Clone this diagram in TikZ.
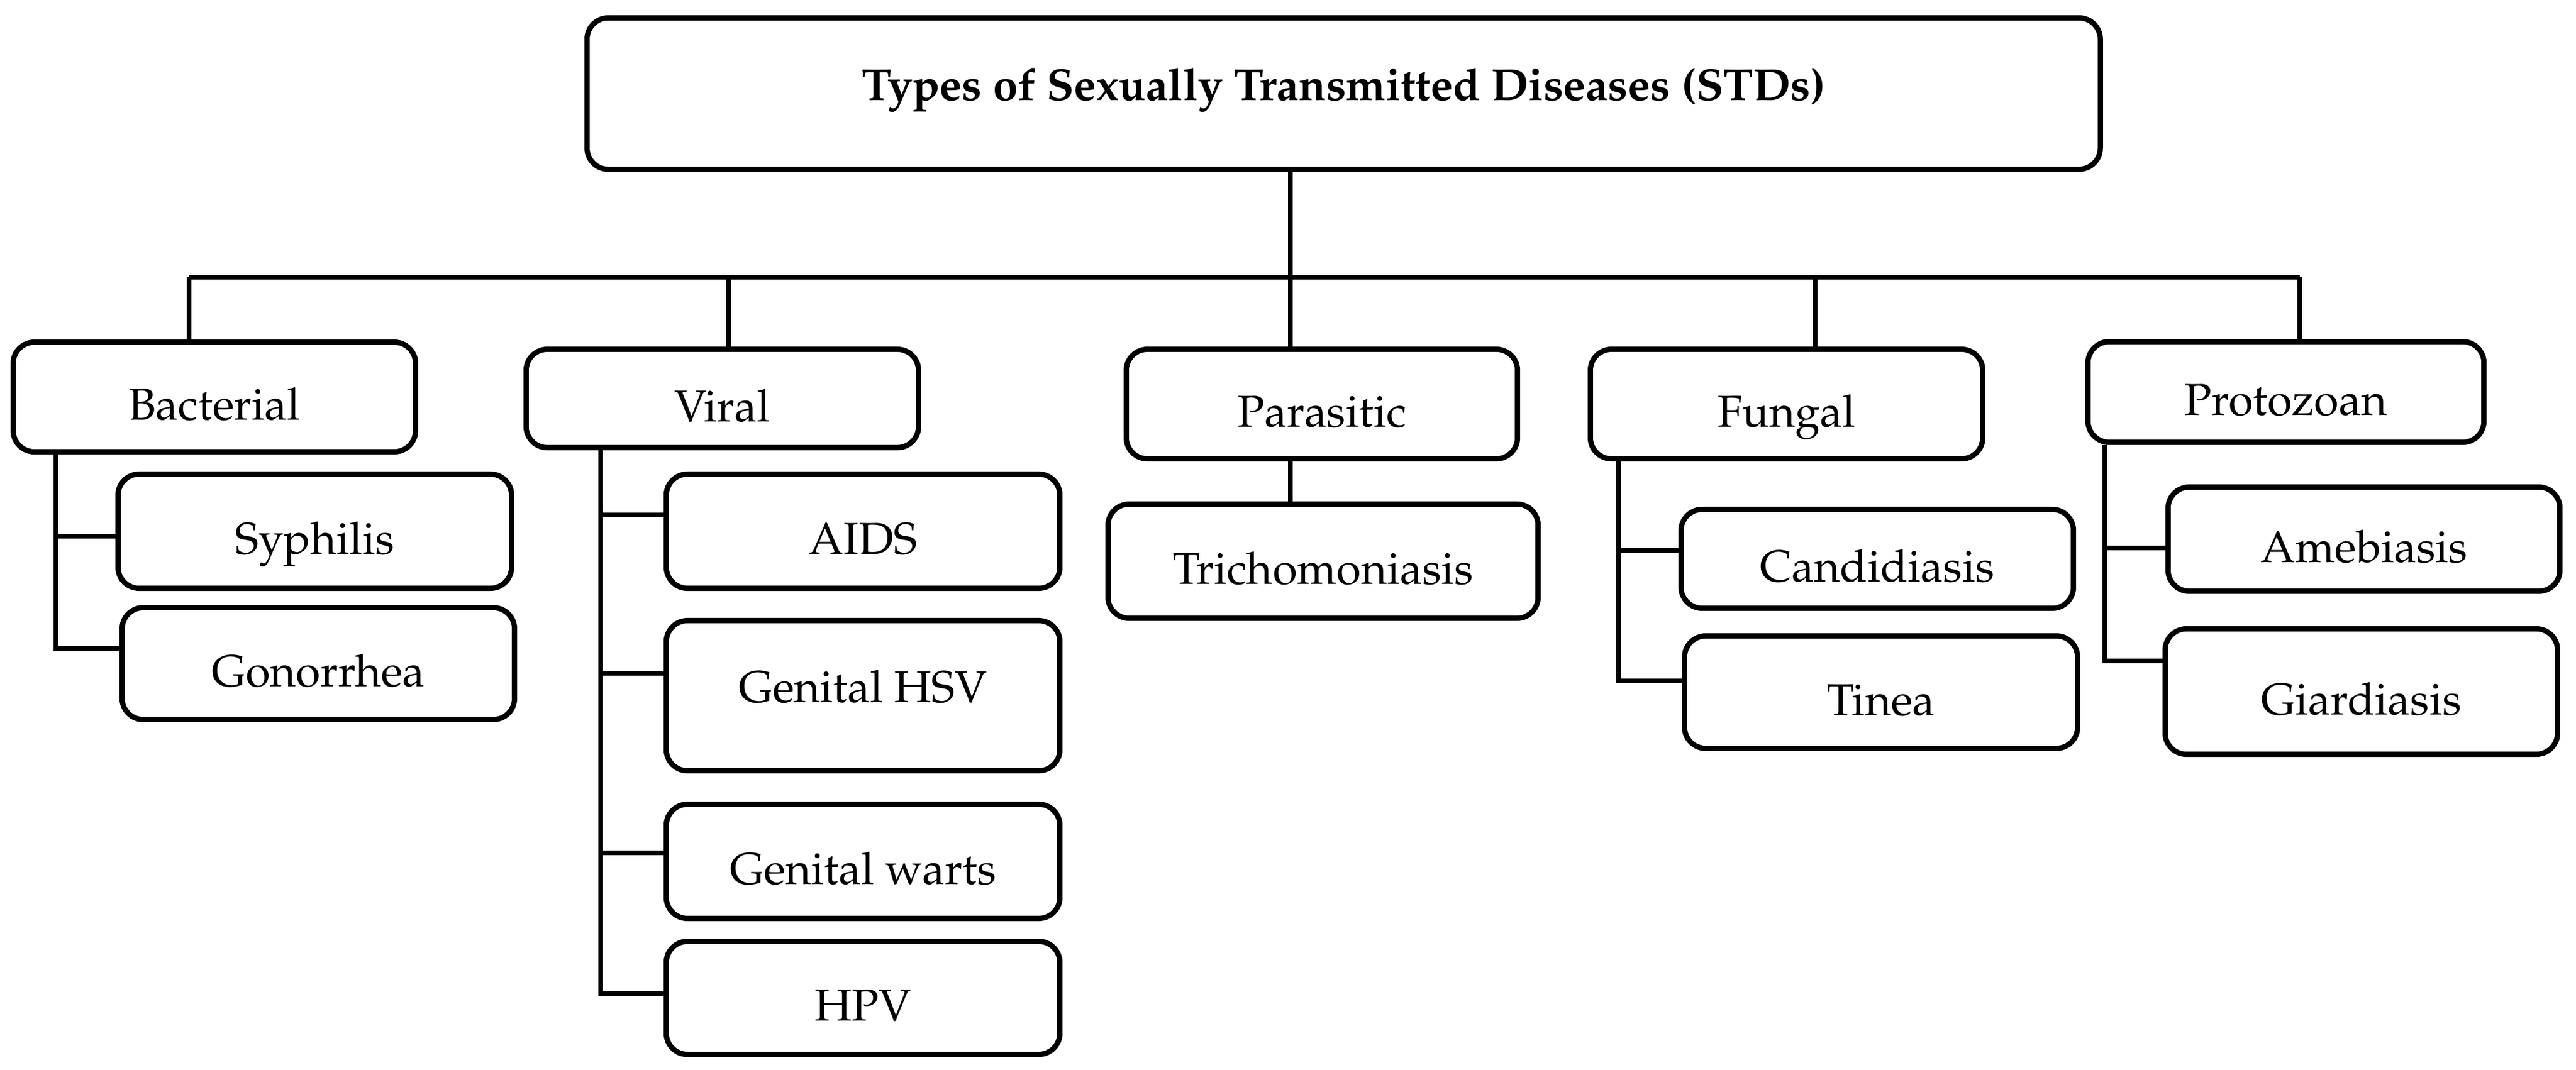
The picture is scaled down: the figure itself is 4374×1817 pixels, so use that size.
\documentclass[tikz,border=0pt]{standalone}
\usepackage[T1]{fontenc}
\renewcommand{\rmdefault}{ppl}
\begin{document}
\begin{tikzpicture}[x=0.01cm,y=-0.01cm,
  box/.style={draw=black,line width=0.09cm,rounded corners=0.36cm,fill=white,
    inner sep=0pt,text height=0.8cm,text depth=0.02cm,
    font=\fontsize{21.6}{26}\selectfont},
  conn/.style={draw=black,line width=0.08cm},
  up/.style={text height=0.5cm,text depth=0.28cm}]
\useasboundingbox (0,0) rectangle (4374,1817);
\fill[white] (0,0) rectangle (4374,1817);
% nodes
\node[box,up,minimum width=25.68cm,minimum height=2.57cm,font=\fontsize{21.6}{26}\selectfont\bfseries] (top) at (2281.5,159) {Types of Sexually Transmitted Diseases (STDs)};
\node[box,minimum width=6.83cm,minimum height=1.86cm] (bac) at (364,674.5) {Bacterial};
\node[box,minimum width=6.68cm,minimum height=1.94cm] (syp) at (534.5,902.5) {Syphilis};
\node[box,minimum width=6.66cm,minimum height=1.90cm] (gon) at (540.5,1127.5) {Gonorrhea};
\node[box,minimum width=6.66cm,minimum height=1.67cm] (vir) at (1226.5,677) {Viral};
\node[box,minimum width=6.68cm,minimum height=1.94cm] (aids) at (1465.5,902.5) {AIDS};
\node[box,up,minimum width=6.68cm,minimum height=2.55cm] (hsv) at (1465.5,1182) {Genital HSV};
\node[box,minimum width=6.68cm,minimum height=1.94cm] (war) at (1465.5,1463.5) {Genital warts};
\node[box,minimum width=6.68cm,minimum height=1.92cm] (hpv) at (1465.5,1695.5) {HPV};
\node[box,minimum width=6.64cm,minimum height=1.86cm] (par) at (2244.5,686.5) {Parasitic};
\node[box,minimum width=7.30cm,minimum height=1.94cm] (tri) at (2246.5,953.5) {Trichomoniasis};
\node[box,minimum width=6.66cm,minimum height=1.86cm] (fun) at (3033.5,686.5) {Fungal};
\node[box,minimum width=6.66cm,minimum height=1.68cm] (can) at (3187.5,949.5) {Candidiasis};
\node[box,minimum width=6.67cm,minimum height=1.91cm] (tin) at (3194,1176) {Tinea};
\node[box,minimum width=6.72cm,minimum height=1.71cm] (pro) at (3881.5,666) {Protozoan};
\node[box,minimum width=6.65cm,minimum height=1.77cm] (ame) at (4014,916) {Amebiasis};
\node[box,minimum width=6.66cm,minimum height=2.13cm] (gia) at (4009.5,1175) {Giardiasis};
% junction coordinates
\coordinate (jct) at (2191,471);
\coordinate (b1) at (321,471);
\coordinate (b2) at (1237,471);
\coordinate (b4) at (3082,471);
\coordinate (b5) at (3905,471);
\coordinate (bv1) at (95,911);
\coordinate (bv2) at (95,1102);
\coordinate (vv1) at (1020,875);
\coordinate (vv2) at (1020,1144);
\coordinate (vv3) at (1020,1449);
\coordinate (vv4) at (1020,1688);
\coordinate (fv1) at (2748,935);
\coordinate (fv2) at (2748,1157);
\coordinate (pv1) at (3574,931);
\coordinate (pv2) at (3574,1123);
% connectors
\draw[conn] (top.south -| jct) -- (jct);
\draw[conn] (b1) -- (b5);
\draw[conn] (b1) -- (bac.north -| b1);
\draw[conn] (b2) -- (vir.north -| b2);
\draw[conn] (jct) -- (par.north -| jct);
\draw[conn] (b4) -- (fun.north -| b4);
\draw[conn] (b5) -- (pro.north -| b5);
\draw[conn] (par.south -| jct) -- (tri.north -| jct);
% bacterial
\draw[conn] (bac.south -| bv2) -- (bv2) -- (gon.west |- bv2);
\draw[conn] (bv1) -- (syp.west |- bv1);
% viral
\draw[conn] (vir.south -| vv4) -- (vv4) -- (hpv.west |- vv4);
\draw[conn] (vv1) -- (aids.west |- vv1);
\draw[conn] (vv2) -- (hsv.west |- vv2);
\draw[conn] (vv3) -- (war.west |- vv3);
% fungal
\draw[conn] (fun.south -| fv2) -- (fv2) -- (tin.west |- fv2);
\draw[conn] (fv1) -- (can.west |- fv1);
% protozoan
\draw[conn] (pro.south -| pv2) -- (pv2) -- (gia.west |- pv2);
\draw[conn] (pv1) -- (ame.west |- pv1);
\end{tikzpicture}
\end{document}
